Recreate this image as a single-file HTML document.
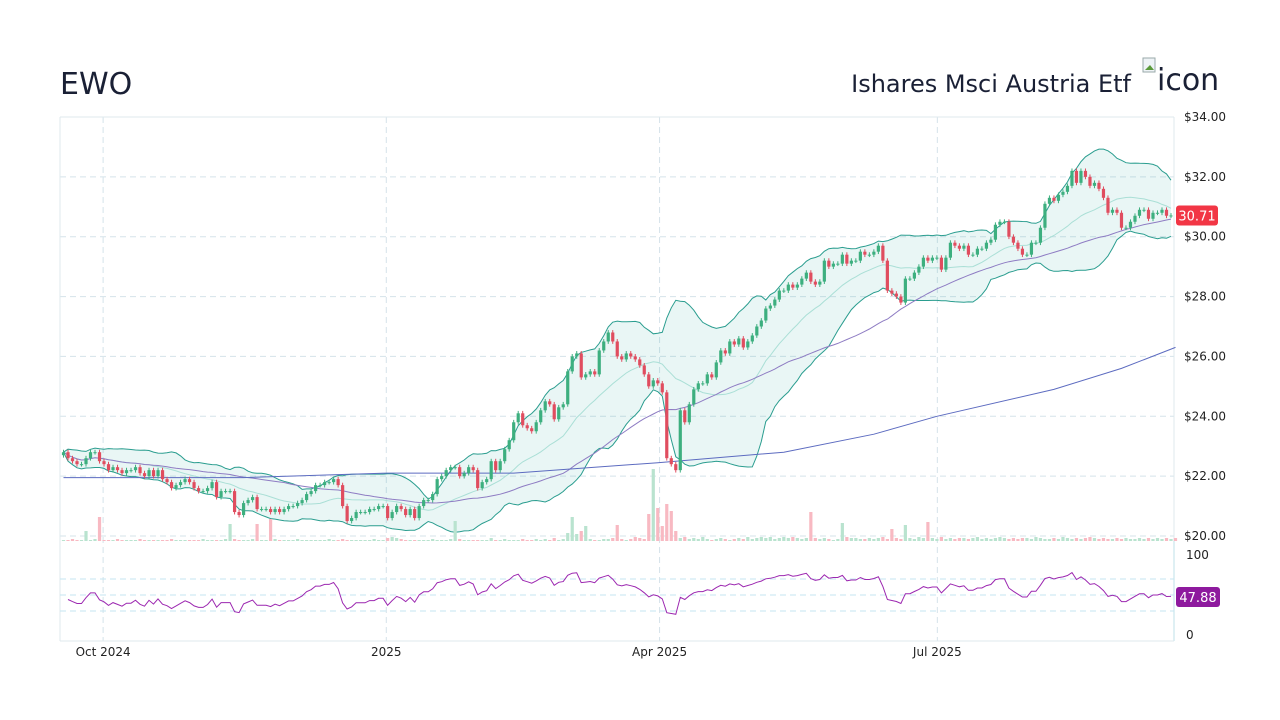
<!DOCTYPE html>
<html><head><meta charset="utf-8"><style>
body{margin:0;background:#fff;width:1280px;height:720px;overflow:hidden;font-family:"DejaVu Sans","Liberation Sans",sans-serif}
svg{position:absolute;left:0;top:0}
</style></head><body>
<svg id="chart" width="1280" height="720" font-family="DejaVu Sans, Liberation Sans, sans-serif">
<text x="60" y="94" font-size="30" fill="#1a2035">EWO</text>
<text x="1131" y="92" font-size="24" fill="#1a2035" text-anchor="end">Ishares Msci Austria Etf</text>
<g><rect x="1143" y="58" width="12" height="14" fill="#eef3f6" stroke="#9aa" stroke-width="1"/><path d="M1145 70 L1150 65 L1154 70Z" fill="#5a9a3a"/><text x="1157" y="90" font-size="30" fill="#1a2035">icon</text></g>
<g id="grid"></g>
<g id="bands"></g>
<g id="vol"></g>
<g id="mas"></g>
<g id="candles"></g>
<g id="rsi"></g>
<g id="axes"></g>
</svg>
<script>
const closes=[22.8,22.6,22.5,22.4,22.4,22.6,22.8,22.8,22.5,22.4,
22.2,22.3,22.2,22.1,22.2,22.2,22.3,22.1,22.0,22.2,
22.0,22.2,21.9,21.8,21.6,21.7,21.8,21.9,21.8,21.6,
21.5,21.5,21.6,21.8,21.3,21.5,21.5,21.5,20.8,20.7,
21.1,21.2,21.3,20.9,20.9,20.9,20.8,20.9,20.8,20.9,
21.0,21.0,21.1,21.2,21.4,21.5,21.7,21.7,21.8,21.8,
21.9,21.7,21.0,20.5,20.6,20.8,20.8,20.8,20.9,20.9,
21.0,21.0,20.6,20.8,21.0,20.9,20.7,20.9,20.6,21.0,
21.2,21.2,21.4,21.9,22.0,22.2,22.3,22.3,22.0,22.1,
22.3,22.2,21.6,21.8,21.9,22.5,
22.2,22.5,22.9,23.2,23.8,24.1,23.7,23.6,23.5,23.8,
24.2,24.5,24.4,23.9,24.3,24.4,25.5,26.0,26.1,25.3,
25.4,25.5,25.4,26.2,26.5,26.8,26.5,26.0,25.9,26.1,
26.0,25.9,25.7,25.4,25.0,25.2,25.1,24.8,22.6,22.4,
22.2,24.2,23.8,24.4,24.9,25.1,25.1,25.4,25.3,25.8,
26.2,26.1,26.5,26.4,26.6,26.3,26.5,26.7,27.0,27.2,
27.6,27.7,27.9,28.2,28.2,28.4,28.3,28.4,28.6,28.8,
28.5,28.4,28.5,29.2,29.0,29.1,29.1,29.4,29.1,29.2,
29.2,29.5,29.4,29.4,29.5,29.7,29.2,
28.2,28.1,28.0,27.8,28.6,28.6,28.8,29.0,29.3,29.2,
29.3,29.3,28.9,29.3,29.8,29.7,29.6,29.7,29.4,29.4,
29.6,29.6,29.8,29.9,30.4,30.5,30.5,30.0,29.8,29.6,
29.4,29.4,29.8,29.8,30.3,31.1,31.3,31.2,31.4,31.5,
31.7,32.2,31.8,32.2,32.0,31.7,31.8,31.6,31.3,30.8,
30.9,30.8,30.3,30.3,30.5,30.7,30.9,30.9,30.6,30.8,
30.8,30.9,30.7,30.71];
const volumes=[1,1,2,1,1,10,1,2,24,1,1,1,2,1,1,1,1,2,1,1,
1,1,1,1,2,1,1,1,1,1,1,2,1,1,1,1,2,17,2,1,
1,1,2,17,1,1,22,2,1,1,1,1,2,1,1,1,1,1,1,2,
1,1,2,1,1,1,1,1,1,2,1,1,3,4,3,2,1,1,1,1,
1,1,2,1,1,1,2,20,2,1,1,1,1,1,1,3,1,1,2,1,
1,1,2,1,1,2,1,2,1,3,1,2,8,24,7,10,15,2,1,1,
2,2,3,16,2,1,2,4,3,2,27,72,33,15,37,30,10,3,4,2,
3,2,4,2,1,2,3,2,1,2,3,2,4,2,3,4,3,4,2,3,
4,3,4,3,2,3,29,3,2,3,2,1,2,18,4,3,3,2,2,3,
2,3,4,2,12,3,2,16,3,2,4,3,19,3,2,4,2,3,2,3,
3,2,3,4,2,3,2,3,4,3,2,3,2,3,3,2,4,3,2,2,
3,2,4,3,2,3,2,3,4,3,2,3,2,2,3,2,3,2,2,3,
2,3,2,3,2,3,2,3];
const sma200Idx=[0,40,72,100,132,160,180,194,220,235,247];
const sma200Vals=[21.95,21.95,22.1,22.1,22.45,22.8,23.4,24.0,24.9,25.6,26.3];
const priceTicks=[20,22,24,26,28,30,32,34];
const xTickIdx=[8.8,71.7,132.4,194.1];
const xTickLabels=["Oct 2024","2025","Apr 2025","Jul 2025"];
const rsiTicks=[30,50,70];
const lastPriceLabel="30.71";
const lastRsiLabel="47.88";

const NS="http://www.w3.org/2000/svg";
const L=60,R=1174,PT=117,PB=541,X0=63.5,X1=1171;
const n=closes.length,step=(X1-X0)/(n-1);
const xs=i=>X0+i*step;
const yp=p=>PT+(34-p)*(PB-5-PT)/14;
const yr=v=>635-v*0.8;
function el(tag,attrs,parent){const e=document.createElementNS(NS,tag);for(const k in attrs)e.setAttribute(k,attrs[k]);parent.appendChild(e);return e;}
const G=id=>document.getElementById(id);
const grid=G('grid');
priceTicks.forEach(p=>{const l=el('line',{x1:L,x2:R,y1:yp(p),y2:yp(p),stroke:'#d5e3ea','stroke-dasharray':'6,4'},grid);

});
xTickIdx.forEach(t=>{const l=el('line',{x1:xs(t),x2:xs(t),y1:PT,y2:641,stroke:'#d5e3ea','stroke-dasharray':'6,4'},grid);

});
el('line',{x1:L,x2:R,y1:PT,y2:PT,stroke:'#dfe9ee'},grid);
el('line',{x1:L,x2:L,y1:PT,y2:641,stroke:'#dfe9ee'},grid);
el('line',{x1:R,x2:R,y1:PT,y2:PB,stroke:'#dfe9ee'},grid);
el('line',{x1:R,x2:R,y1:PB,y2:641,stroke:'#bfe0ea'},grid);
el('line',{x1:L,x2:R,y1:641,y2:641,stroke:'#dfe9ee'},grid);
rsiTicks.forEach(v=>{const l=el('line',{x1:L,x2:R,y1:yr(v),y2:yr(v),stroke:'#c5e6f2','stroke-dasharray':'6,4'},grid);

});
const mid=[],up=[],lo=[],sma50=[];
for(let i=0;i<n;i++){const w=closes.slice(Math.max(0,i-19),i+1);const m=w.reduce((a,b)=>a+b,0)/w.length;
const sd=Math.sqrt(w.reduce((a,b)=>a+(b-m)*(b-m),0)/w.length);mid.push(m);up.push(m+2*sd);lo.push(m-2*sd);
const w5=closes.slice(Math.max(0,i-49),i+1);sma50.push(w5.reduce((a,b)=>a+b,0)/w5.length);}
const pts=a=>a.map((v,i)=>xs(i).toFixed(1)+','+yp(v).toFixed(1)).join(' ');
const bands=G('bands');
const fillPts=pts(up)+' '+lo.map((v,i)=>[i,v]).reverse().map(([i,v])=>xs(i).toFixed(1)+','+yp(v).toFixed(1)).join(' ');
const f=el('polygon',{points:fillPts,fill:'rgba(38,166,154,0.1)'},bands);


[[up,'upper-band','#2a9d8f',1],[lo,'lower-band','#2a9d8f',1],[mid,'middle-band','#aadfd6',1]].forEach(([a,nm,c,w])=>{
const p=el('polyline',{points:pts(a),fill:'none',stroke:c,'stroke-width':w},bands);

});
const vol=G('vol');
volumes.forEach((v,i)=>{const upd=i===0||closes[i]>=closes[i-1];
const r=el('rect',{x:xs(i)-1.6,y:PB-v,width:3.2,height:v,fill:upd?'#b9e3cf':'#f8b9c2'},vol);

});
const mas=G('mas');
const s50=el('polyline',{points:pts(sma50),fill:'none',stroke:'#8e7cc3','stroke-width':1},mas);


const s200=el('polyline',{points:sma200Idx.map((t,k)=>xs(t).toFixed(1)+','+yp(sma200Vals[k]).toFixed(1)).join(' '),fill:'none',stroke:'#5c6bc0','stroke-width':1},mas);


const cg=G('candles');
closes.forEach((c,i)=>{const o=i===0?c-0.1:closes[i-1];const upd=c>=o;const col=upd?'#3daf7f':'#e04d5f';
const hi=Math.max(o,c)+0.08,lw=Math.min(o,c)-0.08;
const g=el('g',{},cg);


el('line',{x1:xs(i),x2:xs(i),y1:yp(hi),y2:yp(lw),stroke:col,'stroke-width':1},g);
const top=yp(Math.max(o,c)),bot=yp(Math.min(o,c));
el('rect',{x:xs(i)-1.6,y:top,width:3.2,height:Math.max(1,bot-top),fill:col},g);});
// RSI (Wilder, seeded with a neutral prior average)
const rsi=[];let ag=0.06,al=0.06;
for(let i=1;i<n;i++){const d=closes[i]-closes[i-1];const g=Math.max(d,0),l=Math.max(-d,0);
ag=(ag*13+g)/14;al=(al*13+l)/14;
rsi.push(100*ag/(ag+al));}
const rg=G('rsi');
const rl=el('polyline',{points:rsi.map((v,k)=>xs(k+1).toFixed(1)+','+yr(v).toFixed(1)).join(' '),fill:'none',stroke:'#9c27b0','stroke-width':1},rg);


const ax=G('axes');
priceTicks.forEach(p=>{const t=el('text',{x:1184,y:yp(p)+4,'font-size':12,fill:'#222'},ax);t.textContent='$'+p.toFixed(2);

});
xTickIdx.forEach((t,k)=>{const e=el('text',{x:xs(t),y:656,'font-size':12,fill:'#222','text-anchor':'middle'},ax);e.textContent=xTickLabels[k];

});
[[100,'100'],[0,'0']].forEach(([v,s])=>{const e=el('text',{x:1186,y:yr(v)+4,'font-size':12,fill:'#222'},ax);e.textContent=s;

});
const pl=el('g',{},ax);


const py=yp(closes[n-1]);
el('rect',{x:1176,y:py-10,width:42,height:20,rx:3,fill:'#f23645'},pl);
el('text',{x:1197,y:py+5,'font-size':13,fill:'#fff','text-anchor':'middle'},pl).textContent=lastPriceLabel;
const rlab=el('g',{},ax);


el('rect',{x:1176,y:587,width:44,height:20,rx:3,fill:'#8e1a9e'},rlab);
el('text',{x:1198,y:602,'font-size':13,fill:'#fff','text-anchor':'middle'},rlab).textContent=lastRsiLabel;
</script>
</body></html>
